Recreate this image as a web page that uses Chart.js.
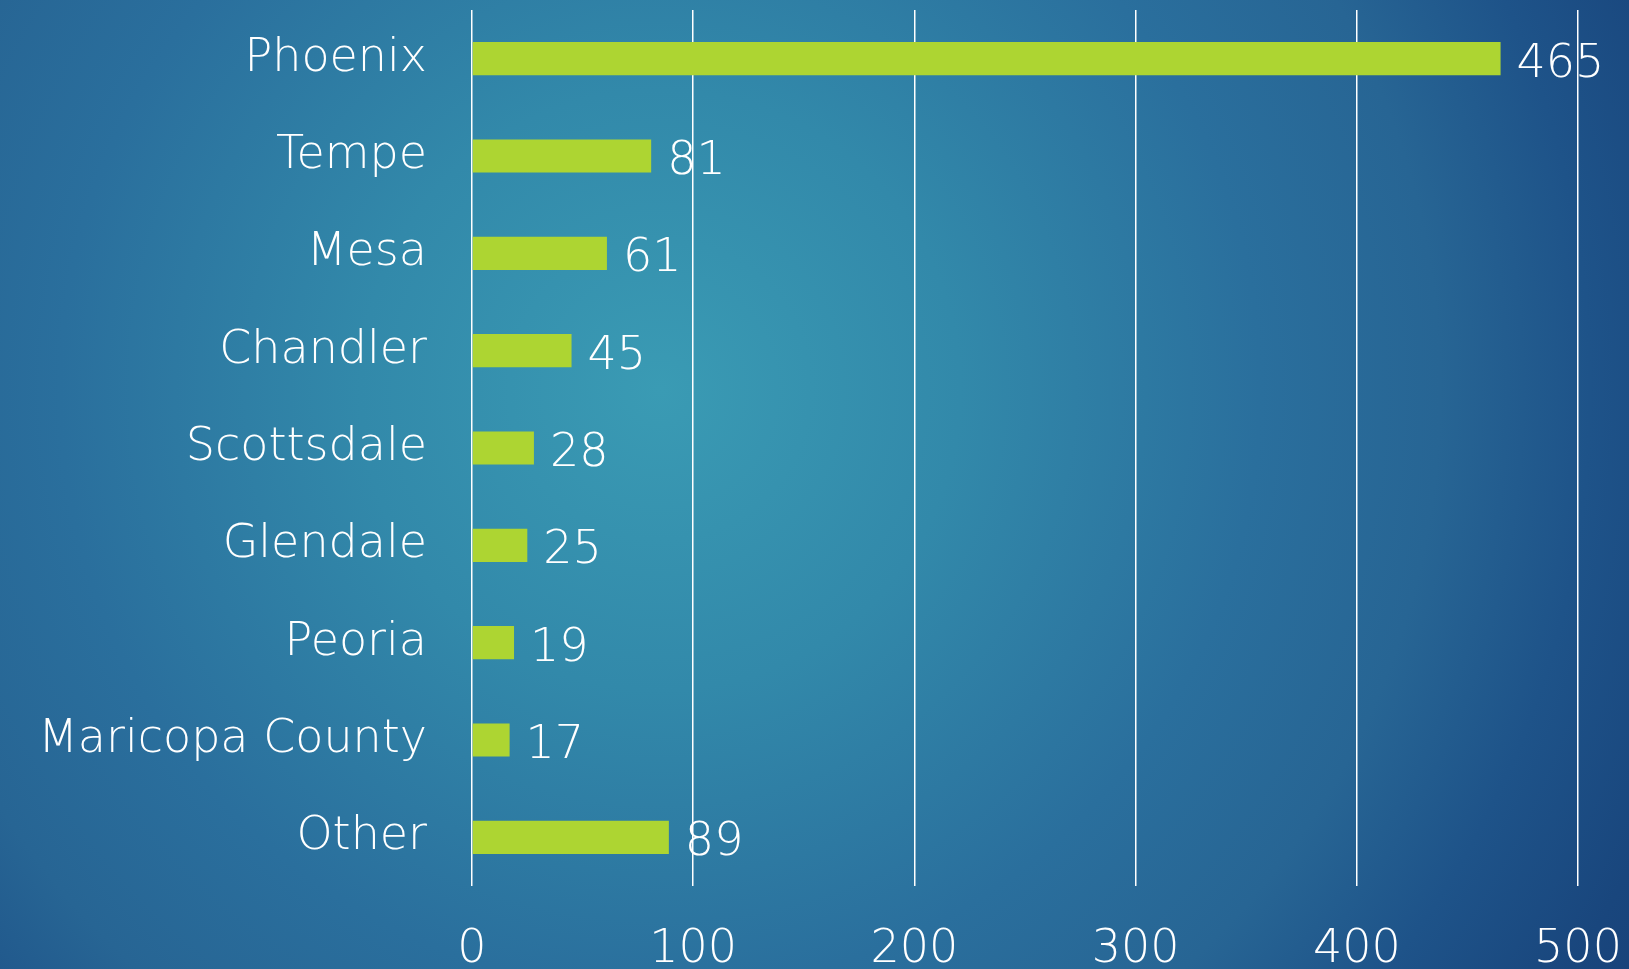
<!DOCTYPE html>
<html>
<head>
<meta charset="utf-8">
<script src="https://cdn.jsdelivr.net/npm/chart.js@4/dist/chart.umd.min.js"></script>
<style>
    html, body {
        margin: 0;
        padding: 0;
        width: 1629px;
        height: 969px;
        overflow: hidden;
        background: radial-gradient(circle at 660px 390px, #3a9bb4 0px, #3289aa 300px, #2a6f9d 600px, #276594 780px, #1e5389 930px, #19467d 1080px, #173f77 1200px);
    }
    #cityChart {
        display: block;
    }
</style>
</head>
<body>
<canvas id="cityChart" width="1629" height="969"></canvas>
<script>
    const cities = ['Phoenix', 'Tempe', 'Mesa', 'Chandler', 'Scottsdale', 'Glendale', 'Peoria', 'Maricopa County', 'Other'];
    const counts = [465, 81, 61, 45, 28, 25, 19, 17, 89];
    const axisTicks = [0, 100, 200, 300, 400, 500];

    const fontFamily = "'DejaVu Sans', sans-serif";
    const fontWeight = '200';

    // value written just past the end of each bar
    const barValueLabels = {
        id: 'barValueLabels',
        afterDatasetsDraw(chart) {
            const ctx = chart.ctx;
            const meta = chart.getDatasetMeta(0);
            ctx.save();
            ctx.font = fontWeight + ' 46px ' + fontFamily;
            ctx.fillStyle = '#ffffff';
            ctx.textAlign = 'left';
            ctx.textBaseline = 'middle';
            meta.data.forEach(function (bar, i) {
                ctx.fillText(String(counts[i]), bar.x + 16, bar.y + 6);
            });
            ctx.restore();
        }
    };

    const ctx = document.getElementById('cityChart').getContext('2d');
    new Chart(ctx, {
        type: 'bar',
        data: {
            labels: cities,
            datasets: [{
                data: counts,
                backgroundColor: '#add532',
                borderWidth: 0,
                categoryPercentage: 1,
                barPercentage: 0.34
            }]
        },
        options: {
            indexAxis: 'y',
            responsive: false,
            maintainAspectRatio: false,
            animation: false,
            layout: {
                padding: { top: 10, right: 51, left: 0, bottom: 0 }
            },
            plugins: {
                legend: { display: false },
                tooltip: { enabled: false }
            },
            scales: {
                x: {
                    min: 0,
                    max: 500,
                    afterBuildTicks(scale) {
                        scale.ticks = axisTicks.map(v => ({ value: v }));
                    },
                    afterFit(scale) {
                        scale.height = 83;
                        scale.paddingLeft = 0;
                        scale.paddingRight = 0;
                    },
                    grid: {
                        color: '#ffffff',
                        lineWidth: 1.5,
                        drawTicks: false
                    },
                    border: { display: false },
                    ticks: {
                        color: '#ffffff',
                        padding: 36,
                        maxRotation: 0,
                        font: { family: fontFamily, size: 46, weight: fontWeight }
                    }
                },
                y: {
                    afterFit(scale) {
                        scale.width = 472;
                        scale.paddingTop = 0;
                        scale.paddingBottom = 0;
                    },
                    grid: { display: false, drawTicks: false },
                    border: { display: false },
                    ticks: {
                        color: '#ffffff',
                        padding: 45,
                        font: { family: fontFamily, size: 46, weight: fontWeight }
                    }
                }
            }
        },
        plugins: [barValueLabels]
    });
</script>
</body>
</html>
